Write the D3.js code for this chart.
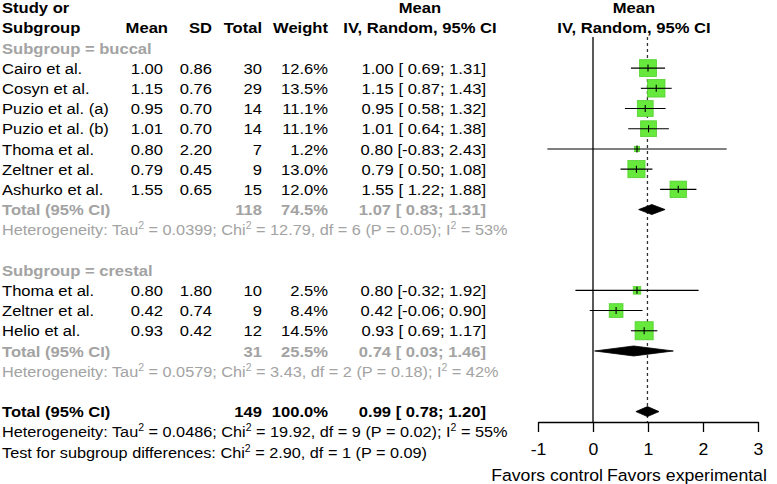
<!DOCTYPE html>
<html>
<head>
<meta charset="utf-8">
<script src="https://cdn.jsdelivr.net/npm/d3@7"></script>
<style>
  html, body { margin: 0; padding: 0; background: #fff; }
  svg text { font-family: "Liberation Sans", Arial, sans-serif; }
</style>
</head>
<body>
<svg id="chart" width="777" height="484"></svg>
<script>
// ---------------- DATA ----------------
const buccalStudies = ["Cairo et al.", "Cosyn et al.", "Puzio et al. (a)", "Puzio et al. (b)", "Thoma et al.", "Zeltner et al.", "Ashurko et al."];
const buccalMean    = [1.00, 1.15, 0.95, 1.01, 0.80, 0.79, 1.55];
const buccalSD      = [0.86, 0.76, 0.70, 0.70, 2.20, 0.45, 0.65];
const buccalN       = [30, 29, 14, 14, 7, 9, 15];
const buccalWeight  = [12.6, 13.5, 11.1, 11.1, 1.2, 13.0, 12.0];
const buccalLower   = [0.69, 0.87, 0.58, 0.64, -0.83, 0.50, 1.22];
const buccalUpper   = [1.31, 1.43, 1.32, 1.38, 2.43, 1.08, 1.88];

const crestalStudies = ["Thoma et al.", "Zeltner et al.", "Helio et al."];
const crestalMean    = [0.80, 0.42, 0.93];
const crestalSD      = [1.80, 0.74, 0.42];
const crestalN       = [10, 9, 12];
const crestalWeight  = [2.5, 8.4, 14.5];
const crestalLower   = [-0.32, -0.06, 0.69];
const crestalUpper   = [1.92, 0.90, 1.17];

const subgroupNames  = ["buccal", "crestal"];
const subgroupN      = [118, 31];
const subgroupWeight = [74.5, 25.5];
const subgroupEst    = [1.07, 0.74];
const subgroupLower  = [0.83, 0.03];
const subgroupUpper  = [1.31, 1.46];
const subgroupTau2   = ["0.0399", "0.0579"];
const subgroupChi2   = ["12.79", "3.43"];
const subgroupDf     = [6, 2];
const subgroupP      = ["0.05", "0.18"];
const subgroupI2     = ["53%", "42%"];

const totalN = 149, totalWeight = 100.0, totalEst = 0.99, totalLower = 0.78, totalUpper = 1.20;
const totalHet = { tau2: "0.0486", chi2: "19.92", df: 9, p: "0.02", i2: "55%" };
const subgroupTest = { chi2: "2.90", df: 1, p: "0.09" };

const xTicks = [-1, 0, 1, 2, 3];
const labelLeft = "Favors control", labelRight = "Favors experimental";

// ---------------- LAYOUT ----------------
const svg = d3.select("#chart");
const GRAY = "#a3a3a3";
const FS = 15.5, SX = 1.07;
const x = d3.scaleLinear().domain([-1, 3]).range([538, 758]);
const row = d3.scaleLinear().domain([0, 22]).range([7.5, 452]);
const boxSide = d3.scaleSqrt().domain([0, 1]).range([0, 4.75]);

function txt(str, xp, k, opts = {}) {
  const t = svg.append("text")
    .attr("transform", `translate(${xp},${row(k) + 5.6}) scale(${opts.sx || SX},1)`)
    .attr("font-size", FS)
    .attr("text-anchor", opts.anchor || "start")
    .attr("font-weight", opts.bold ? "bold" : "normal")
    .attr("fill", opts.color || "#000");
  if (Array.isArray(str)) {
    let pendingDy = 0;
    str.forEach(part => {
      if (typeof part === "string") {
        t.append("tspan").attr("dy", pendingDy).text(part);
        pendingDy = 0;
      } else {
        t.append("tspan").attr("dy", -6).attr("font-size", 10).text(part.sup);
        pendingDy = 6;
      }
    });
  } else t.text(str);
  return t;
}
const f2 = v => v.toFixed(2);
const ci = (e, l, u) => `${f2(e)} [${l < 0 ? "" : " "}${f2(l)}; ${f2(u)}]`;

const C = { study: 2, mean: 163, meanH: 168, sd: 212, n: 262, w: 328, eff: 486, effC: 420, plotC: 634 };

// header
txt("Study or", C.study, 0, { bold: true });
txt("Subgroup", C.study, 1, { bold: true });
txt("Mean", C.meanH, 1, { bold: true, anchor: "end" });
txt("SD", C.sd, 1, { bold: true, anchor: "end" });
txt("Total", C.n, 1, { bold: true, anchor: "end" });
txt("Weight", C.w, 1, { bold: true, anchor: "end" });
txt("Mean", C.effC, 0, { bold: true, anchor: "middle" });
txt("IV, Random, 95% CI", C.effC, 1, { bold: true, anchor: "middle" });
txt("Mean", C.plotC, 0, { bold: true, anchor: "middle" });
txt("IV, Random, 95% CI", C.plotC, 1, { bold: true, anchor: "middle" });

// reference lines
svg.append("line").attr("x1", x(0)).attr("x2", x(0)).attr("y1", 37).attr("y2", 422)
  .attr("stroke", "#000").attr("stroke-width", 1.3);
svg.append("line").attr("x1", x(totalEst)).attr("x2", x(totalEst)).attr("y1", 37).attr("y2", 422)
  .attr("stroke", "#333").attr("stroke-width", 1.3).attr("stroke-dasharray", "3,3");

const groups = [
  { studies: buccalStudies, mean: buccalMean, sd: buccalSD, n: buccalN, w: buccalWeight, lo: buccalLower, hi: buccalUpper, start: 2 },
  { studies: crestalStudies, mean: crestalMean, sd: crestalSD, n: crestalN, w: crestalWeight, lo: crestalLower, hi: crestalUpper, start: 13 }
];

function diamond(e, l, u, k) {
  const cy = row(k), h = 5;
  svg.append("path")
    .attr("d", `M${x(l)},${cy} L${x(e)},${cy - h} L${x(u)},${cy} L${x(e)},${cy + h} Z`)
    .attr("fill", "#000").attr("stroke", "#000").attr("stroke-width", 0.8);
}

groups.forEach((g, gi) => {
  txt(`Subgroup = ${subgroupNames[gi]}`, C.study, g.start, { bold: true, color: GRAY });
  g.studies.forEach((s, i) => {
    const k = g.start + 1 + i;
    txt(s, C.study, k);
    txt(f2(g.mean[i]), C.mean, k, { anchor: "end" });
    txt(f2(g.sd[i]), C.sd, k, { anchor: "end" });
    txt(String(g.n[i]), C.n, k, { anchor: "end" });
    txt(g.w[i].toFixed(1) + "%", C.w, k, { anchor: "end" });
    txt(ci(g.mean[i], g.lo[i], g.hi[i]), C.eff, k, { anchor: "end" });
    // plot
    const cy = row(k), side = boxSide(g.w[i]);
    svg.append("rect")
      .attr("x", x(g.mean[i]) - side / 2).attr("y", cy - side / 2)
      .attr("width", side).attr("height", side)
      .attr("fill", "#66e83c").attr("stroke", "#52d02c").attr("stroke-width", 0.8);
    svg.append("line").attr("x1", x(g.lo[i])).attr("x2", x(g.hi[i])).attr("y1", cy).attr("y2", cy)
      .attr("stroke", "#000").attr("stroke-width", 1.1);
    svg.append("line").attr("x1", x(g.mean[i])).attr("x2", x(g.mean[i])).attr("y1", cy - 3.5).attr("y2", cy + 3.5)
      .attr("stroke", "#000").attr("stroke-width", 1.1);
  });
  const kt = g.start + 1 + g.studies.length;
  txt("Total (95% CI)", C.study, kt, { bold: true, color: GRAY });
  txt(String(subgroupN[gi]), C.n, kt, { bold: true, color: GRAY, anchor: "end" });
  txt(subgroupWeight[gi].toFixed(1) + "%", C.w, kt, { bold: true, color: GRAY, anchor: "end" });
  txt(ci(subgroupEst[gi], subgroupLower[gi], subgroupUpper[gi]), C.eff, kt, { bold: true, color: GRAY, anchor: "end" });
  diamond(subgroupEst[gi], subgroupLower[gi], subgroupUpper[gi], kt);
  txt(["Heterogeneity: Tau", { sup: "2" }, ` = ${subgroupTau2[gi]}; Chi`, { sup: "2" },
       ` = ${subgroupChi2[gi]}, df = ${subgroupDf[gi]} (P = ${subgroupP[gi]}); I`, { sup: "2" }, ` = ${subgroupI2[gi]}`],
      C.study, kt + 1, { color: GRAY, sx: 1.05 });
});

// overall
txt("Total (95% CI)", C.study, 20, { bold: true });
txt(String(totalN), C.n, 20, { bold: true, anchor: "end" });
txt(totalWeight.toFixed(1) + "%", C.w, 20, { bold: true, anchor: "end" });
txt(ci(totalEst, totalLower, totalUpper), C.eff, 20, { bold: true, anchor: "end" });
diamond(totalEst, totalLower, totalUpper, 20);
txt(["Heterogeneity: Tau", { sup: "2" }, ` = ${totalHet.tau2}; Chi`, { sup: "2" },
     ` = ${totalHet.chi2}, df = ${totalHet.df} (P = ${totalHet.p}); I`, { sup: "2" }, ` = ${totalHet.i2}`],
    C.study, 21, { sx: 1.05 });
txt(["Test for subgroup differences: Chi", { sup: "2" }, ` = ${subgroupTest.chi2}, df = ${subgroupTest.df} (P = ${subgroupTest.p})`],
    C.study, 22, { sx: 1.05 });

// axis
const AFS = 16.5;
const axisG = svg.append("g").attr("transform", "translate(0,422)")
  .call(d3.axisBottom(x).tickValues(xTicks).tickSize(10).tickPadding(9).tickSizeOuter(0).tickFormat(d3.format("d")));
axisG.select(".domain").attr("stroke-width", 1.3);
axisG.selectAll(".tick line").attr("stroke-width", 1.3);
axisG.selectAll(".tick text").attr("font-size", AFS).attr("font-family", "Liberation Sans, Arial, sans-serif")
  .attr("transform", `scale(${SX},1)`).attr("dy", "0.85em");
axisG.selectAll(".tick text").each(function(d) {
  d3.select(this).text(d < 0 ? "-" + Math.abs(d) : String(d));
});

svg.append("text").attr("transform", `translate(${x(0) + 10},481) scale(${SX},1)`)
  .attr("font-size", AFS).attr("text-anchor", "end").text(labelLeft);
svg.append("text").attr("transform", `translate(${x(0) + 14},481) scale(${SX},1)`)
  .attr("font-size", AFS).attr("text-anchor", "start").text(labelRight);
</script>
</body>
</html>
